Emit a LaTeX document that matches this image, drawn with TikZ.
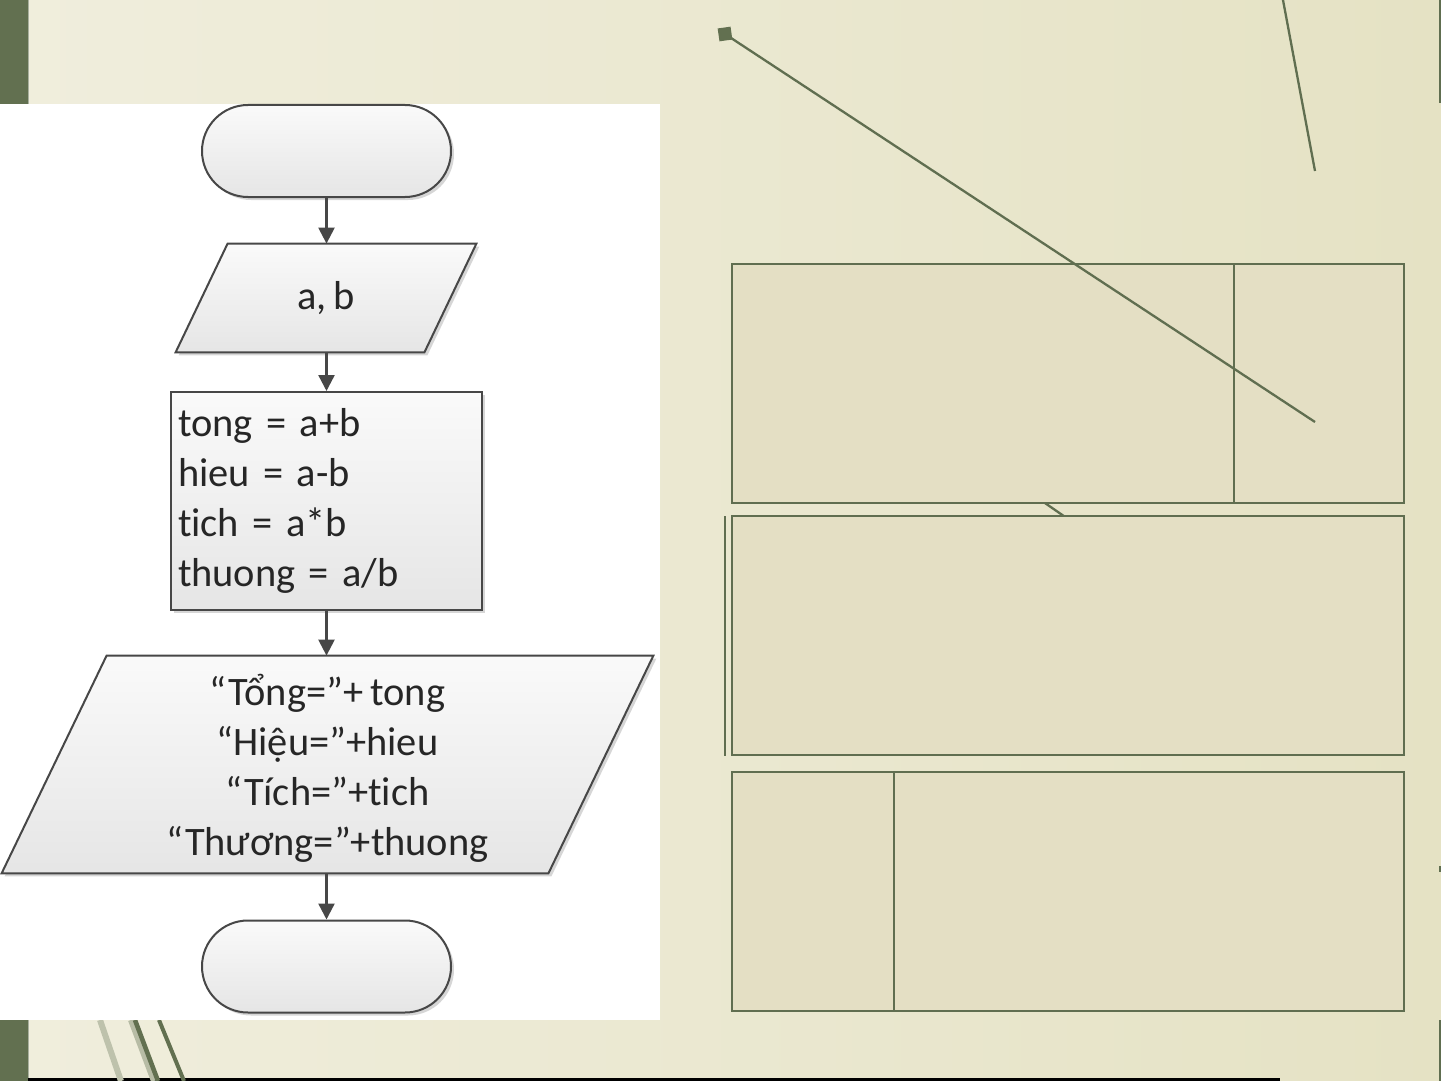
\documentclass[tikz,border=0pt]{standalone}
\usepackage{fontspec}
\setmainfont{Carlito}[Ligatures={NoCommon}, WordSpace=0.8]
\usetikzlibrary{shadows,arrows.meta}
\definecolor{barG}{HTML}{627050}
\definecolor{boxF}{HTML}{E4DFC4}
\definecolor{boxD}{HTML}{606E50}
\definecolor{fcline}{HTML}{474747}
\definecolor{bgL}{HTML}{F0EEDD}
\definecolor{bgM}{HTML}{F3F2E7}
\definecolor{bgR}{HTML}{E5E2C4}
\pgfdeclarelayer{back}
\pgfdeclarelayer{shapes}
\pgfsetlayers{back,shapes,main}
\tikzset{
  fcfont/.style={font=\fontsize{20.2pt}{25pt}\selectfont, text=black!85},
  fcshape/.style={draw=fcline, line width=1pt, top color=white!98!black, bottom color=white!90!black,
     drop shadow={shadow xshift=1.5pt, shadow yshift=-1.5pt, opacity=0.35, fill=black!45}},
  termbox/.style={fcshape, fcfont, rectangle, minimum width=124.5pt, minimum height=46pt, rounded corners=23pt},
  procbox/.style={fcshape, fcfont, rectangle, minimum width=155.5pt, minimum height=109pt,
     text width=148.5pt, inner xsep=3.5pt, align=left},
  iotext/.style={fcfont, rectangle, draw=none, align=center, inner sep=0pt},
  flow/.style={draw=fcline, line width=1.2pt, -{Triangle[length=8pt,width=8pt]}},
  slidebox/.style={draw=boxD, fill=boxF, line width=1.3pt},
  slideline/.style={draw=boxD, line width=1.15pt},
}
\begin{document}
\begin{tikzpicture}[x=0.5pt,y=-0.5pt]
\useasboundingbox (0,0) rectangle (1441,1081);
% ---------- background ----------
\begin{pgfonlayer}{back}
\shade[left color=bgL, middle color=bgM, right color=bgR] (0,0) rectangle (1441,1081);
\fill[barG] (0,0) rectangle (28,1081);
\draw[color=barG!55!white, line width=0.6pt] (28.8,0) -- (28.8,1081);
\fill[black] (28,1078) rectangle (1280,1081);
\draw[boxD, line width=1pt] (1440,0) -- (1440,103);
\draw[boxD, line width=1pt] (1440,1020) -- (1440,1081);
\draw[boxD, line width=1pt] (1440,866) -- (1440,872);
% bottom-left decorative strokes
\draw[color=barG!35!bgL, line width=3pt] (100,1020) -- (121,1081);
\draw[color=barG!40!bgL, line width=3pt] (131,1020) -- (154,1081);
\draw[color=barG, line width=2.3pt] (135,1020) -- (158,1081);
\draw[color=barG, line width=2pt] (159,1020) -- (184,1081);
% top-right stroke
\draw[slideline] (1283,0) -- (1315,171);
% hidden diagonal fragment (under boxes)
\draw[slideline] (990,465) -- (1110,548);
% right-hand boxes
\draw[slidebox] (732,264) rectangle (1404,503);
\draw[slideline] (1234,264) -- (1234,503);
\draw[slidebox] (732,516) rectangle (1404,755);
\draw[slideline] (725,516) -- (725,756);
\draw[slidebox] (732,772) rectangle (1404,1011);
\draw[slideline] (894,772) -- (894,1011);
% diagonal line with square end
\draw[slideline] (728,36) -- (1315,422);
\node[fill=barG, minimum size=6.5pt, inner sep=0pt, rotate=8] (sq) at (725,34) {};
% white picture area
\fill[white] (0,104) rectangle (660,1020);
\end{pgfonlayer}
% ---------- flowchart ----------
\node[termbox] (start) at (326.5,151) {};
\node[iotext, minimum width=150pt, minimum height=54pt] (in) at (326,298) {a, b};
\node[procbox] (proc) at (326.5,501) {tong = a+b\\hieu = a-b\\tich = a*b\\thuong = a/b};
\node[iotext, minimum width=325.5pt, minimum height=108.5pt, text depth=0pt] (out) at (327.5,764.5)
  {“Tổng=”+ tong\\“Hiệu=”+hieu\\“Tích=”+tich\\“Thương=”+thuong};
\node[termbox] (stop) at (326.5,966.5) {};
\begin{pgfonlayer}{shapes}
\path[fcshape] ([xshift=26pt]in.north west) -- (in.north east) -- ([xshift=-26pt]in.south east) -- (in.south west) -- cycle;
\path[fcshape] ([xshift=52.5pt]out.north west) -- (out.north east) -- ([xshift=-52.5pt]out.south east) -- (out.south west) -- cycle;
\end{pgfonlayer}
\draw[flow] (start.south) -- (start.south |- in.north);
\draw[flow] (start.south |- in.south) -- (start.south |- proc.north);
\draw[flow] (start.south |- proc.south) -- (start.south |- out.north);
\draw[flow] (start.south |- out.south) -- (stop.north);
\end{tikzpicture}
\end{document}
